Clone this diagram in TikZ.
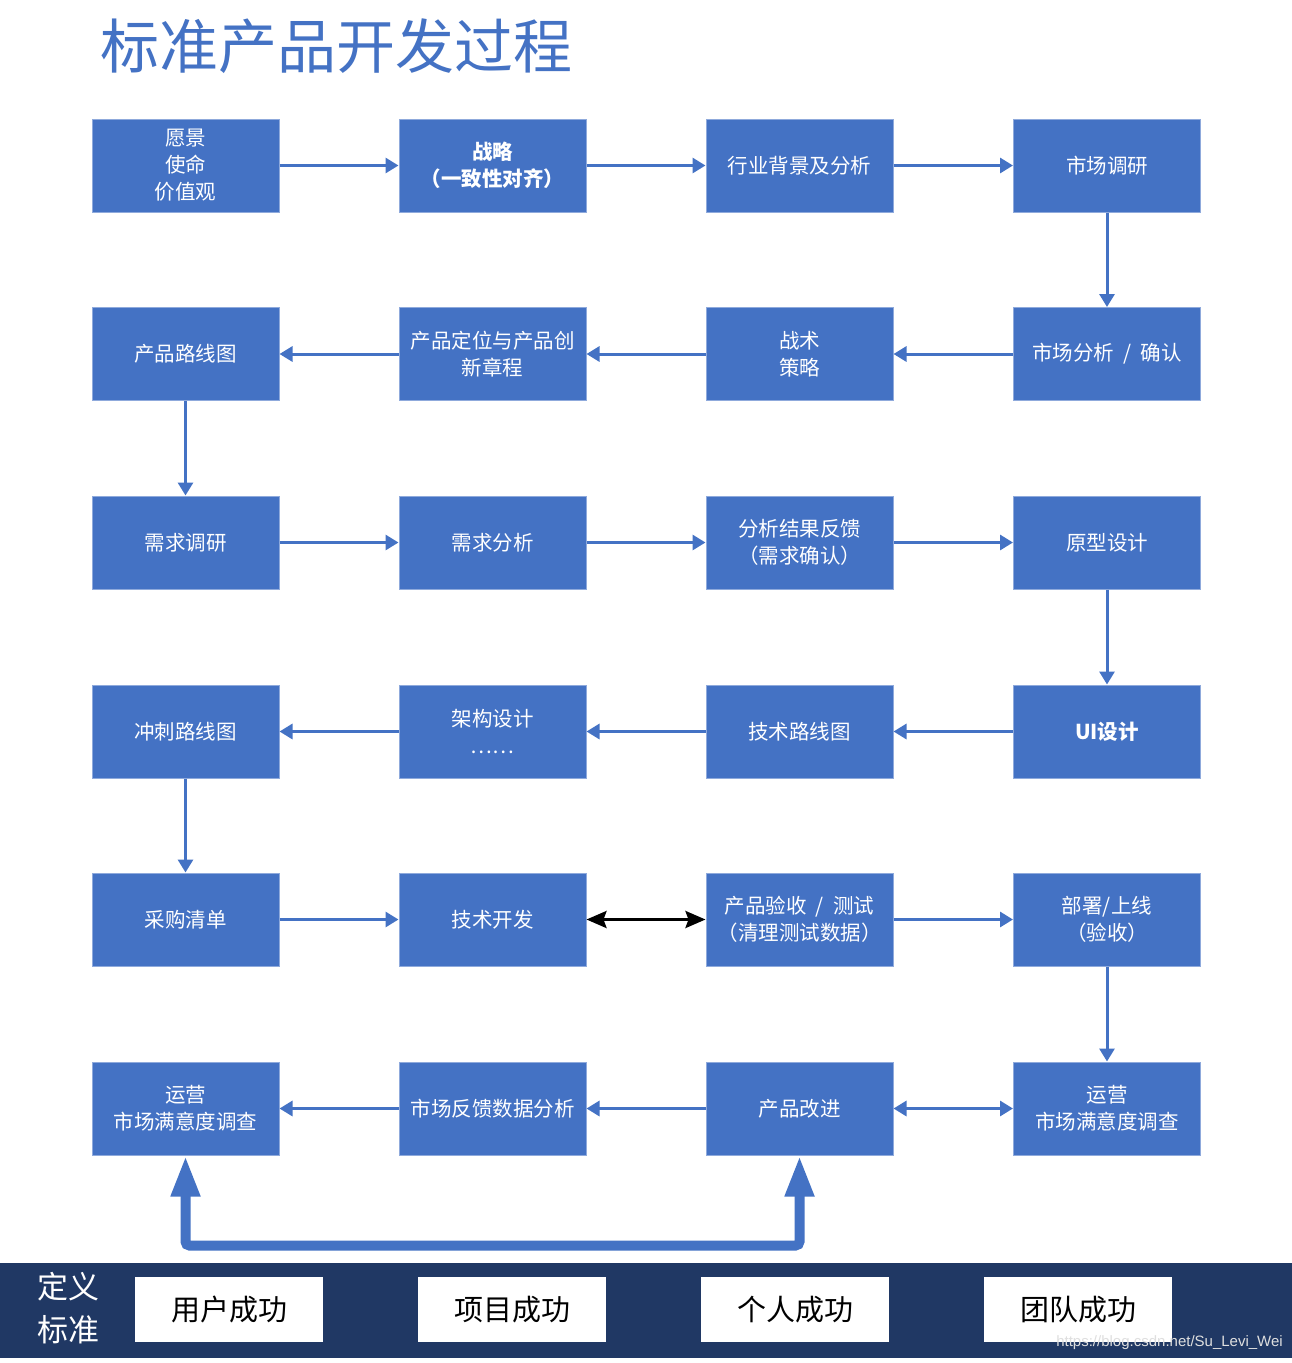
\documentclass[tikz,border=0pt]{standalone}
\usepackage{fontspec}
\newfontfamily\cjk{Noto Sans CJK SC}
\newfontfamily\wmfont{Liberation Sans}
\usetikzlibrary{arrows.meta}
\definecolor{boxblue}{HTML}{4472C4}
\definecolor{boxedge}{HTML}{8FAADC}
\definecolor{navy}{HTML}{203864}
\tikzset{
  box/.style={fill=boxblue, draw=boxedge, line width=1pt, minimum width=187pt, minimum height=93pt,
    inner sep=0pt, text=white, align=center, font=\cjk\fontsize{20.5}{27}\selectfont},
  flow/.style={draw=boxblue, line width=3pt, -{Triangle[length=13pt,width=15pt]}},
  twoway/.style={draw=boxblue, line width=3pt, {Triangle[length=13pt,width=15pt]}-{Triangle[length=13pt,width=15pt]}},
  blackway/.style={draw=black, line width=3pt, {Stealth[length=20pt,width=17pt,inset=3pt]}-{Stealth[length=20pt,width=17pt,inset=3pt]}},
  bigarrow/.style={draw=boxblue, line width=10pt, rounded corners=4pt,
    {Triangle[length=41pt,width=27pt]}-{Triangle[length=41pt,width=27pt]}},
  goal/.style={fill=white, minimum width=188pt, minimum height=65pt, inner sep=0pt,
    text=black, font=\cjk\fontsize{29}{34}\selectfont}
}
\begin{document}
\begin{tikzpicture}[x=1pt,y=-1pt]
\useasboundingbox (0,0) rectangle (1292,1363);
\fill[white] (0,0) rectangle (1292,1363);
% title
\node[anchor=west, inner sep=0pt, text=boxblue, font=\cjk\fontsize{59}{64}\selectfont] (title) at (100,46) {标准产品开发过程};
% row 1
\node[box] (a1) at (185.5,165.5) {愿景\\使命\\价值观};
\node[box, font=\cjk\bfseries\fontsize{20.5}{27}\selectfont] (a2) at (492.5,165.5) {战略\\（一致性对齐）};
\node[box] (a3) at (799.5,165.5) {行业背景及分析};
\node[box] (a4) at (1107,165.5) {市场调研};
% row 2
\node[box] (b1) at (185.5,354) {产品路线图};
\node[box] (b2) at (492.5,354) {产品定位与产品创\\新章程};
\node[box] (b3) at (799.5,354) {战术\\策略};
\node[box] (b4) at (1107,354) {市场分析 ~/~ 确认};
% row 3
\node[box] (c1) at (185.5,542.5) {需求调研};
\node[box] (c2) at (492.5,542.5) {需求分析};
\node[box] (c3) at (799.5,542.5) {分析结果反馈\\（需求确认）};
\node[box] (c4) at (1107,542.5) {原型设计};
% row 4
\node[box] (d1) at (185.5,731.5) {冲刺路线图};
\node[box] (d2) at (492.5,731.5) {架构设计\\……};
\node[box] (d3) at (799.5,731.5) {技术路线图};
\node[box, font=\cjk\bfseries\fontsize{20.5}{27}\selectfont] (d4) at (1107,731.5) {UI设计};
% row 5
\node[box] (e1) at (185.5,919.5) {采购清单};
\node[box] (e2) at (492.5,919.5) {技术开发};
\node[box] (e3) at (799.5,919.5) {产品验收 ~/~ 测试\\（清理测试数据）};
\node[box] (e4) at (1107,919.5) {部署/上线\\（验收）};
% row 6
\node[box] (f1) at (185.5,1108.5) {运营\\市场满意度调查};
\node[box] (f2) at (492.5,1108.5) {市场反馈数据分析};
\node[box] (f3) at (799.5,1108.5) {产品改进};
\node[box] (f4) at (1107,1108.5) {运营\\市场满意度调查};
% connectors
\draw[flow] (a1) -- (a2);
\draw[flow] (a2) -- (a3);
\draw[flow] (a3) -- (a4);
\draw[flow] (a4) -- (b4);
\draw[flow] (b4) -- (b3);
\draw[flow] (b3) -- (b2);
\draw[flow] (b2) -- (b1);
\draw[flow] (b1) -- (c1);
\draw[flow] (c1) -- (c2);
\draw[flow] (c2) -- (c3);
\draw[flow] (c3) -- (c4);
\draw[flow] (c4) -- (d4);
\draw[flow] (d4) -- (d3);
\draw[flow] (d3) -- (d2);
\draw[flow] (d2) -- (d1);
\draw[flow] (d1) -- (e1);
\draw[flow] (e1) -- (e2);
\draw[blackway] (e2) -- (e3);
\draw[flow] (e3) -- (e4);
\draw[flow] (e4) -- (f4);
\draw[twoway] (f3) -- (f4);
\draw[flow] (f3) -- (f2);
\draw[flow] (f2) -- (f1);
\draw[bigarrow] (f1.south) -- ++(0,90) -| (f3.south);
% bottom band
\fill[navy] (0,1263) rectangle (1292,1358);
\node[text=white, align=center, inner sep=0pt, font=\cjk\fontsize{31}{43}\selectfont] (std) at (68,1308) {定义\\标准};
\node[goal] (g1) at (229,1309.5) {用户成功};
\node[goal] (g2) at (512,1309.5) {项目成功};
\node[goal] (g3) at (795,1309.5) {个人成功};
\node[goal] (g4) at (1078,1309.5) {团队成功};
\node[anchor=east, inner sep=0pt, text=white!75!gray, font=\wmfont\fontsize{15}{17}\selectfont] (wm) at (1283,1343) {https://blog.csdn.net/Su\_Levi\_Wei};
\end{tikzpicture}
\end{document}
